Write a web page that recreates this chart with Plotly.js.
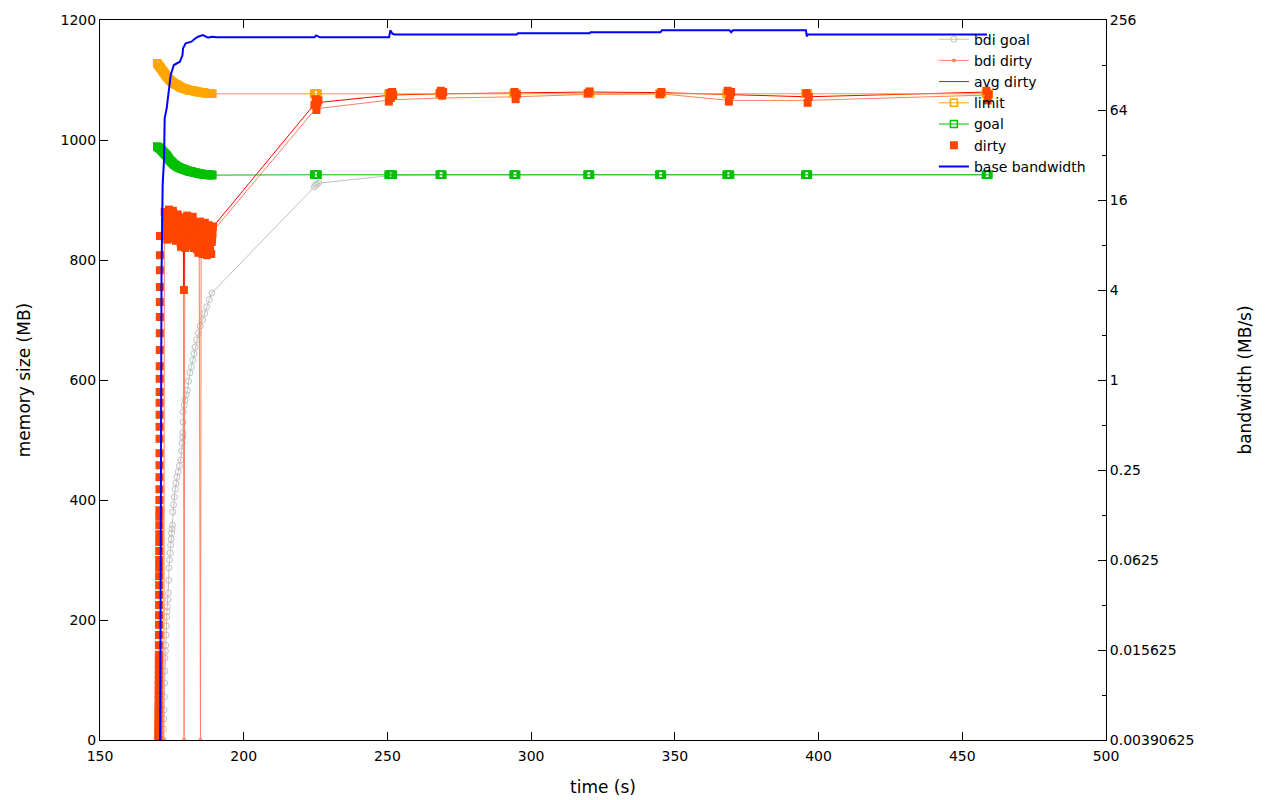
<!DOCTYPE html>
<html>
<head>
<meta charset="utf-8">
<script src="https://cdn.plot.ly/plotly-3.0.1.min.js"></script>
<style>html,body{margin:0;padding:0;background:#fff;}#chart{width:1280px;height:800px;}</style>
</head>
<body>
<div id="chart"></div>
<script>
// ---------- data ----------
// bdi goal (MB)
const bdiGoalTime = [172.0,172.1,172.2,172.3,172.4,172.5,172.55,172.6,172.75,172.9,173.0,173.1,173.2,173.3,173.4,173.6,173.8,173.9,174.0,174.2,174.4,174.6,174.75,174.9,175.05,175.2,175.3,175.6,175.9,176.2,176.4,176.8,177.2,177.6,178.1,178.4,178.6,178.75,178.9,178.9,178.9,179.3,179.6,180.0,180.4,180.8,181.3,181.8,182.3,182.7,183.1,183.6,184.2,184.9,185.7,186.4,187.1,188.0,188.9,
  224.6,225.0,225.4,226.0,250.5,251.5,268.5,294.5,320.0,345.0,369.0,396.0,458.8];
const bdiGoalMB   = [0,18,35,50,72,95,115,137,148,158,175,190,205,214,222,234,245,266,287,300,312,325,335,345,352,358,380,392,405,418,428,438,447,457,467,482,495,505,512,530,547,558,567,575,583,598,612,622,633,644,655,667,678,690,700,711,722,734,745,
  922,925,926,928,940,941,942,942,942,942,942,942,942];

// bdi dirty (MB)
const bdiDirtyTime = [172.2,172.4,173.2,174.0,175.0,176.0,177.0,178.0,179.0,179.25,179.5,180.5,181.5,182.5,183.5,184.5,184.95,185.2,186.0,187.0,188.0,189.3,225.0,251.5,269.0,294.6,320.0,345.0,369.0,396.0,459.0];
const bdiDirtyMB   = [0,862,850,868,842,860,838,855,835,0,845,852,840,848,832,845,0,838,852,835,848,848,1052,1067,1070,1072,1076,1077,1066,1066,1075];

// avg dirty (MB)
const avgDirtyTime = [172.0,174.0,176.0,178.0,179.0,179.2,179.4,182.0,185.0,187.0,189.3,225.0,251.5,269.0,294.6,320.0,345.0,369.0,396.0,459.0];
const avgDirtyMB   = [845,850,852,850,848,750,846,848,845,850,855,1062,1075,1077,1078,1080,1079,1076,1072,1080];

// limit and goal (MB), sampled at the same times
const ctrlTime = [169.9,170.2,170.5,170.8,171.1,171.4,171.7,172.0,172.3,172.6,172.9,173.2,173.5,173.8,174.1,174.4,174.7,175.0,175.3,175.6,175.9,176.2,176.5,176.8,177.1,177.4,177.7,178.0,178.3,178.6,178.9,179.2,179.5,179.8,180.1,180.4,180.7,181.0,181.3,181.6,181.9,182.2,182.5,182.8,183.1,183.4,183.7,184.0,184.3,184.6,184.9,185.2,185.5,185.8,186.1,186.4,186.7,187.0,187.3,187.6,187.9,188.2,188.5,188.8,189.1,
  224.5,224.8,225.1,225.4,225.7,250.4,250.7,251.0,251.3,251.6,251.9,268.2,268.5,268.8,269.1,293.9,294.2,294.5,294.8,319.6,319.9,320.2,320.5,344.6,344.9,345.2,345.5,368.0,368.3,368.6,368.9,369.2,395.4,395.7,396.0,396.3,458.2,458.5,458.8,459.1];
const limitMB  = [1128,1126,1124,1122,1120,1118,1116,1114,1112,1110,1108,1106,1104,1103,1101,1100,1098,1097,1096,1095,1094,1093,1092.5,1092,1091,1090,1089,1088,1087.5,1087,1086,1086,1085.5,1085,1084.5,1084,1083.5,1083,1083,1082.5,1082.5,1082,1082,1081.5,1081,1081,1080.5,1080,1080,1080,1079.5,1079.5,1079,1079,1079,1078.5,1078.5,1078,1078,1078,1077.5,1077.5,1077,1077,1077,
  1077,1077,1077,1077,1077,1077,1077,1077,1077,1077,1077,1077,1077,1077,1077,1077,1077,1077,1077,1077,1077,1077,1077,1077,1077,1077,1077,1077,1077,1077,1077,1077,1077,1077,1077,1077,1077,1077,1077,1077];
const goalMB   = [989,988,987,986,984.5,983,981.5,980,978.5,977,975.5,974,972,970,968,966,964.5,963,961.5,960,959,958,957,956,955,954.5,954,953,952.5,952,951.5,951,950.5,950,949.5,949,948.5,948,947.5,947.3,947,946.7,946.4,946,945.7,945.4,945,944.7,944.4,944,943.8,943.5,943.3,943,942.8,942.6,942.4,942.2,942,941.9,941.8,941.7,941.6,941.5,941.5,
  942,942,942,942,942,942,942,942,942,942,942,942,942,942,942,942,942,942,942,942,942,942,942,942,942,942,942,942,942,942,942,942,942,942,942,942,942,942,942,942];

// dirty (MB)
const dirtyTime = [
  170.30,170.31,170.32,170.33,170.34,170.35,170.36,170.37,170.38,170.39,170.40,170.41,170.42,170.43,170.44,170.45,170.46,170.47,170.48,170.49,
  170.50,170.51,170.52,170.53,170.54,170.55,170.56,170.57,170.58,170.59,170.60,170.61,170.62,170.63,170.64,170.65,170.66,170.67,170.68,170.69,
  170.70,170.71,170.72,170.73,170.74,170.75,170.76,170.77,170.78,170.79,170.80,170.81,170.82,170.83,170.84,170.85,
  172.5,172.8,173.1,173.4,173.7,174.0,174.3,174.6,174.9,175.2,175.5,175.8,176.1,176.4,176.7,177.0,
  177.3,177.6,177.9,178.2,178.5,178.8,179.1,179.2,179.4,179.7,180.0,180.3,180.6,180.9,181.2,181.5,181.8,182.1,182.4,182.7,183.0,
  183.3,183.6,183.9,184.2,184.5,184.8,185.1,185.4,185.7,186.0,186.3,186.6,186.9,187.2,187.5,187.8,188.1,188.4,188.7,189.0,189.3,
  172.65,172.95,173.25,173.55,173.85,174.15,174.45,174.75,175.05,175.35,175.65,175.95,176.25,176.55,176.85,
  177.15,177.45,177.75,178.05,178.35,178.65,178.95,179.55,179.85,180.15,180.45,180.75,181.05,181.35,181.65,181.95,182.25,182.55,182.85,
  183.15,183.45,183.75,184.05,184.35,184.65,184.95,185.25,185.55,185.85,186.15,186.45,186.75,187.05,187.35,187.65,187.95,188.25,188.55,188.85,189.15,
  224.6,225.0,225.3,225.6,226.0,250.5,250.8,251.2,251.6,252.0,268.2,268.6,269.0,269.4,294.2,294.6,295.0,319.8,320.3,344.8,345.3,
  368.4,368.8,369.2,369.6,395.8,396.2,396.6,458.4,458.8,459.2];
const dirtyMB = [
  0,5,12,18,25,32,38,45,52,58,67,75,83,92,100,108,117,125,133,142,
  158,175,192,208,225,242,258,273,287,300,315,330,343,358,372,383,400,418,438,458,
  478,502,522,542,562,580,602,623,650,678,705,730,755,783,808,840,
  880,846,868,834,858,884,842,870,836,856,878,848,866,832,860,876,
  872,834,860,822,848,870,836,750,858,820,846,874,832,862,824,850,868,830,856,820,846,
  862,826,850,812,838,864,824,852,810,840,860,828,848,808,836,858,822,846,810,834,856,
  864,874,852,880,840,862,872,844,858,882,838,870,852,864,842,
  856,866,842,828,864,852,838,870,826,856,844,866,838,826,860,848,872,834,852,
  844,856,818,832,858,846,816,834,852,822,842,862,814,830,850,826,840,818,852,830,844,
  1058,1068,1050,1062,1066,1064,1078,1070,1080,1074,1078,1082,1074,1080,1080,1068,1076,1078,1081,1076,1080,
  1082,1064,1075,1080,1078,1062,1072,1082,1066,1076];

// base bandwidth (MB/s, right axis)
const bwTime = [170.9,171.4,171.8,172.3,172.5,173.2,173.9,174.6,175.7,176.6,177.8,178.7,178.9,179.8,181.8,182.9,184.1,185.8,187.6,188.8,190.5,224.6,225.2,226.5,250.6,251.0,251.8,252.5,269.8,270.2,270.8,295.0,295.4,320.3,320.7,345.0,345.5,369.0,369.6,370.2,395.6,395.9,396.3,458.6];
const bwMBs  = [0.002,5,20.2,30.4,56.3,65.7,84.9,109.7,128,131.4,134.6,149.3,165.6,178.8,183.3,191,198,203,195,198,196,196,202,196,196,218,207,205,205,203,205,205,208.5,208.5,212,212,218.5,218.5,212,218.5,218.5,199,204.5,204.5];

// axis ticks
const xTicks = [150,200,250,300,350,400,450,500];
const yTicks = [0,200,400,600,800,1000,1200];
const y2Ticks  = [0.00390625,0.015625,0.0625,0.25,1,4,16,64,256];
const y2Labels = ['0.00390625','0.015625','0.0625','0.25','1','4','16','64','256'];
const y2Minor  = [0.0078125,0.03125,0.125,0.5,2,8,32,128];

// ---------- chart ----------
const traces = [
  {name:'bdi goal', x:bdiGoalTime, y:bdiGoalMB, mode:'lines+markers', type:'scatter',
   line:{color:'#c0c0c0', width:1}, marker:{symbol:'circle-open', size:6, color:'#c0c0c0', line:{width:1}}},
  {name:'bdi dirty', x:bdiDirtyTime, y:bdiDirtyMB, mode:'lines+markers', type:'scatter',
   line:{color:'#ff8060', width:1}, marker:{symbol:'circle', size:4, color:'#ff8060'}},
  {name:'avg dirty', x:avgDirtyTime, y:avgDirtyMB, mode:'lines', type:'scatter',
   line:{color:'#ff0000', width:1}},
  {name:'limit', x:ctrlTime, y:limitMB, mode:'lines+markers', type:'scatter',
   line:{color:'#ffa500', width:1}, marker:{symbol:'square-open', size:7, color:'#ffa500', line:{width:1.5}}},
  {name:'goal', x:ctrlTime, y:goalMB, mode:'lines+markers', type:'scatter',
   line:{color:'#00c000', width:1}, marker:{symbol:'square-open', size:7, color:'#00c000', line:{width:1.5}}},
  {name:'dirty', x:dirtyTime, y:dirtyMB, mode:'markers', type:'scatter',
   marker:{symbol:'square', size:8, color:'#ff4500'}},
  {name:'base bandwidth', x:bwTime, y:bwMBs, yaxis:'y2', mode:'lines', type:'scatter',
   line:{color:'#0000ff', width:2}}
];

const axisCommon = {showgrid:false, zeroline:false, showline:true, linecolor:'#000', linewidth:1,
  ticks:'inside', ticklen:8, tickcolor:'#000', tickfont:{size:14, color:'#000'}};

const layout = {
  width:1280, height:800,
  margin:{l:100, r:174, t:20, b:60, pad:0},
  paper_bgcolor:'#fff', plot_bgcolor:'#fff',
  font:{family:'DejaVu Sans, sans-serif', size:14, color:'#000'},
  showlegend:true,
  legend:{x:0.985, xanchor:'right', y:0.995, yanchor:'top', bgcolor:'rgba(0,0,0,0)',
          font:{size:14, color:'#000'}, tracegroupgap:0},
  xaxis:Object.assign({}, axisCommon, {range:[150,500], tickmode:'array', tickvals:xTicks,
          mirror:'ticks', ticklabelstandoff:3, title:{text:'time (s)', standoff:18}}),
  yaxis:Object.assign({}, axisCommon, {range:[0,1200], tickmode:'array', tickvals:yTicks,
          title:{text:'memory size (MB)', standoff:25}}),
  yaxis2:Object.assign({}, axisCommon, {type:'log', overlaying:'y', side:'right',
          range:[Math.log10(y2Ticks[0]), Math.log10(y2Ticks[y2Ticks.length-1])],
          tickmode:'array', tickvals:y2Ticks, ticktext:y2Labels,
          minor:{tickmode:'array', tickvals:y2Minor, ticks:'inside', ticklen:4, tickcolor:'#000'},
          title:{text:'bandwidth (MB/s)', standoff:45}})
};

Plotly.newPlot('chart', traces, layout, {displayModeBar:false, staticPlot:true});
</script>
</body>
</html>
